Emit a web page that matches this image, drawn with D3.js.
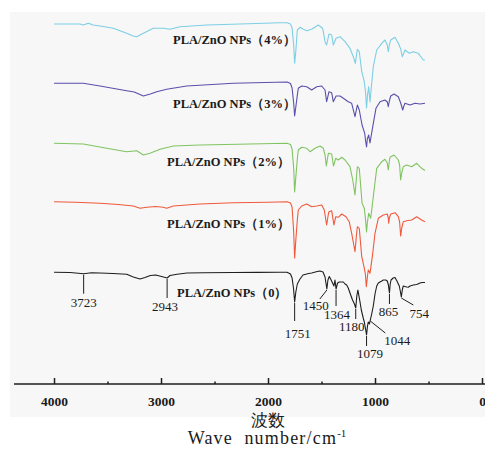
<!DOCTYPE html>
<html>
<head>
<meta charset="utf-8">
<script src="https://cdn.jsdelivr.net/npm/d3@7"></script>
<style>
  body { margin: 0; background: #ffffff; }
  text { font-family: "Liberation Serif", "Times New Roman", serif; fill: #1a1a1a; }
</style>
</head>
<body>
<svg id="chart" width="485" height="463"></svg>
<script>
// FTIR spectra of PLA/ZnO NPs films, [wavenumber cm^-1, relative transmittance]
const spectrum0 = [
  [4000, 99.7], [3850, 99.5], [3723, 98.3], [3650, 99.2], [3570, 99], [3450, 98.5], [3320, 97.8],
  [3259, 95], [3196, 93], [3150, 94.5], [3100, 96.5], [3050, 97], [2995, 95.5], [2943, 94],
  [2916, 96.5], [2850, 97.8], [2757, 99], [2600, 99.3], [2324, 99.5], [2100, 99.6], [1900, 99.7],
  [1822, 99.7], [1790, 98], [1775, 94], [1762, 84], [1751, 70], [1740, 80], [1726, 88], [1701, 93],
  [1673, 97], [1620, 98.5], [1592, 99], [1540, 100.5], [1514, 101], [1486, 100], [1467, 95],
  [1450, 83], [1440, 92], [1427, 95.5], [1410, 92], [1384, 86], [1374, 92], [1364, 83], [1350, 89],
  [1334, 90], [1311, 90], [1296, 90], [1280, 88], [1265, 87], [1250, 84], [1234, 79], [1210, 72],
  [1192, 68], [1180, 64], [1170, 76], [1160, 82], [1140, 70], [1128, 62], [1110, 54], [1100, 50],
  [1090, 44], [1079, 37], [1070, 46], [1063, 50], [1052, 48], [1044, 52], [1031, 58], [1016, 66],
  [1000, 78], [984, 86], [969, 89], [953, 90], [937, 91], [922, 92], [900, 92], [885, 91], [875, 87],
  [865, 79], [858, 88], [850, 92], [830, 94], [813, 94.5], [795, 91], [782, 88], [773, 86], [762, 80],
  [754, 75], [745, 82], [736, 86], [720, 85.5], [704, 85], [689, 84.7], [673, 86], [657, 86.5],
  [642, 87], [610, 87.5], [579, 89], [560, 89.5], [533, 89.5]
];
const spectrum1 = [
  [4000, 100.3], [3800, 99.8], [3570, 98.7], [3400, 97.5], [3259, 96], [3196, 93.7], [3134, 94.7],
  [3050, 95.5], [2979, 94.7], [2947, 93.7], [2885, 96], [2636, 98], [2324, 99.3], [2000, 99.8],
  [1822, 100.3], [1790, 99], [1775, 95], [1760, 70], [1751, 44], [1740, 62], [1726, 82], [1717, 92],
  [1685, 96], [1638, 98], [1592, 95.3], [1545, 96], [1498, 97], [1474, 92], [1452, 77], [1436, 88],
  [1430, 90.3], [1405, 91.3], [1384, 77], [1367, 85.3], [1343, 84.7], [1311, 88], [1271, 85.3],
  [1241, 80.3], [1218, 68.7], [1200, 58], [1187, 50.3], [1175, 65], [1165, 75.3], [1147, 73.7],
  [1124, 45.3], [1103, 35.3], [1090, 28], [1081, 15.3], [1070, 26], [1063, 32], [1047, 28.7],
  [1025, 45.3], [1000, 68.7], [969, 83.7], [922, 87], [885, 88], [876, 84], [872, 78.7], [866, 84],
  [853, 88], [813, 89.3], [782, 85.3], [770, 80], [760, 66], [750, 74], [736, 80.3], [704, 81.3],
  [657, 82], [610, 85.3], [564, 82], [533, 80.3]
];
const spectrum2 = [
  [4000, 99.7], [3726, 99], [3507, 94.7], [3321, 91.3], [3227, 92.3], [3165, 88], [3103, 89.7],
  [3009, 93.7], [2885, 97], [2636, 98], [2168, 99], [1822, 99.7], [1790, 98.5], [1775, 94],
  [1760, 75], [1751, 51], [1740, 66], [1726, 84], [1717, 93], [1685, 95.7], [1638, 94.7],
  [1607, 91.3], [1561, 94.7], [1514, 97], [1483, 94.7], [1467, 88], [1455, 77], [1436, 89.7],
  [1405, 89], [1388, 77], [1367, 84.7], [1343, 83], [1311, 85.7], [1280, 83], [1234, 76.3],
  [1208, 63], [1187, 48], [1165, 76.3], [1147, 74.7], [1121, 39.7], [1100, 34.7], [1090, 25],
  [1079, 11], [1072, 20], [1059, 29.7], [1040, 24.7], [1016, 46.3], [984, 74.7], [937, 81.3],
  [907, 83.7], [885, 80], [876, 73], [866, 82], [860, 85.7], [822, 88], [782, 83], [770, 78],
  [760, 63], [750, 70], [736, 76.3], [704, 78], [657, 76.3], [610, 79.7], [564, 74.7], [533, 72.5]
];
const spectrum3 = [
  [4000, 99.7], [3726, 99.7], [3570, 97], [3321, 92.3], [3250, 91], [3165, 87], [3100, 89],
  [3040, 91.3], [2947, 93.7], [2760, 97], [2324, 99.7], [1822, 101], [1790, 99.5], [1775, 95],
  [1760, 80], [1751, 67], [1740, 76], [1726, 88], [1717, 94.7], [1685, 97], [1638, 96.3],
  [1592, 93], [1545, 96.3], [1498, 97], [1467, 93], [1452, 81.3], [1430, 91.3], [1405, 90.3],
  [1390, 81.3], [1364, 87], [1327, 87], [1296, 84.7], [1250, 81.3], [1218, 79.7], [1187, 66.3],
  [1165, 78], [1147, 73], [1121, 58], [1096, 49.7], [1088, 42], [1079, 36], [1072, 44], [1059, 48],
  [1047, 40], [1021, 56.3], [991, 74.7], [953, 81.3], [907, 83], [885, 81], [876, 76.3], [866, 82],
  [853, 87], [822, 89], [782, 86.3], [760, 80], [741, 73], [730, 77], [720, 79.7], [673, 78],
  [626, 79.7], [579, 79], [533, 79.7]
];
const spectrum4 = [
  [4000, 99], [3757, 99], [3726, 98], [3679, 99.7], [3633, 98], [3570, 97], [3446, 94.7],
  [3321, 89.7], [3259, 87], [3227, 86.3], [3165, 89.7], [3072, 94.7], [2979, 94.7], [2916, 93.7],
  [2822, 96.3], [2573, 98], [2262, 99], [1888, 100.3], [1822, 100.3], [1790, 99], [1775, 95],
  [1760, 78], [1751, 59.7], [1740, 72], [1726, 93], [1701, 95.7], [1670, 93.7], [1638, 92.3],
  [1592, 93.7], [1530, 98], [1489, 94.7], [1467, 81.3], [1452, 78], [1430, 89], [1405, 88],
  [1390, 78], [1364, 84.7], [1327, 86.3], [1280, 81.3], [1234, 74.7], [1203, 66.3], [1184, 59.7],
  [1165, 73.7], [1147, 71.3], [1124, 51.3], [1100, 41.3], [1088, 30], [1079, 15], [1070, 28],
  [1059, 36.3], [1047, 21], [1035, 35], [1016, 56.3], [984, 73], [937, 79.7], [907, 83], [885, 78],
  [876, 71.3], [866, 78], [853, 83], [813, 85.7], [782, 79.7], [760, 74], [745, 66.3], [730, 70],
  [720, 73], [679, 69.7], [642, 71.3], [595, 69.7], [549, 63], [533, 63]
];

const seriesLabels = [
  "PLA/ZnO NPs（0）", "PLA/ZnO NPs（1%）", "PLA/ZnO NPs（2%）",
  "PLA/ZnO NPs（3%）", "PLA/ZnO NPs（4%）"
];
const majorTicks = [4000, 3000, 2000, 1000, 0];
const minorTicks = [3500, 2500, 1500, 500];
const peakLabels = [3723, 2943, 1751, 1450, 1364, 1180, 1079, 1044, 865, 754];
const axisTitleZh = "波数";
const axisTitleEn = "Wave  number/cm";

// ---- layout ----
const spectra = [spectrum0, spectrum1, spectrum2, spectrum3, spectrum4];
const colors = ["#1e1e1e", "#ef5a3c", "#80c462", "#5a50ab", "#7ccfe4"];
const stackShift = [0, 70, 129, 189, 249];   // vertical offset of each trace
const labelPos = [[177, 293], [167, 223.5], [167, 162], [173, 103.5], [173, 40]];
// annotation geometry: line end (lx, ly) and text centre (tx, ty), relative to the peak tip
const annot = {
  3723: { lx: 0, ly: 19, tx: 0, ty: 28 },
  2943: { lx: 0, ly: 19, tx: -2, ty: 27 },
  1751: { lx: 0, ly: 18, tx: 3, ty: 30 },
  1450: { lx: -7, ly: 9, tx: -11, ty: 15 },
  1364: { lx: 0, ly: 16, tx: 1, ty: 24 },
  1180: { lx: 0, ly: 10, tx: -4, ty: 17 },
  1079: { lx: 0, ly: 10, tx: 3.5, ty: 17 },
  1044: { lx: 15, ly: 12, tx: 27, ty: 19 },
  865:  { lx: 0, ly: 10, tx: -1, ty: 17 },
  754:  { lx: 12, ly: 7, tx: 18, ty: 15 }
};

const svg = d3.select("#chart");

// plot panel
svg.append("rect").attr("x", 10).attr("y", 12).attr("width", 475).attr("height", 405)
  .attr("fill", "#f7f7f7");

const x = d3.scaleLinear().domain([4374, 0]).range([14, 482]);
const y = d3.scaleLinear().domain([0, 360]).range([372, 12]);

const line = d3.line().x(d => x(d[0]));

spectra.forEach((s, i) => {
  svg.append("path")
    .datum(s)
    .attr("fill", "none")
    .attr("stroke", colors[i])
    .attr("stroke-width", 1.1)
    .attr("stroke-linejoin", "round")
    .attr("d", line.y(d => y(d[1] + stackShift[i])));
  svg.append("text")
    .attr("x", labelPos[i][0]).attr("y", labelPos[i][1])
    .attr("dominant-baseline", "central")
    .attr("font-size", 12.5)
    .attr("font-weight", "bold")
    .text(seriesLabels[i]);
});

// peak annotations on the neat PLA trace
const lookup = new Map(spectrum0.map(d => [d[0], d[1]]));
peakLabels.forEach(wn => {
  const a = annot[wn];
  const px = x(wn), py = y(lookup.get(wn) + stackShift[0]) + 1;
  svg.append("line")
    .attr("x1", px).attr("y1", py).attr("x2", px + a.lx).attr("y2", py + a.ly)
    .attr("stroke", "#1e1e1e").attr("stroke-width", 1);
  svg.append("text")
    .attr("x", px + a.tx).attr("y", py + a.ty)
    .attr("text-anchor", "middle").attr("dominant-baseline", "central")
    .attr("font-size", 13)
    .text(wn);
});

// x axis
const gAxis = svg.append("g").attr("transform", "translate(0,384)");
gAxis.call(d3.axisBottom(x).tickValues(majorTicks).tickSize(-6).tickPadding(12).tickFormat(d3.format("d")));
gAxis.append("g").call(d3.axisBottom(x).tickValues(minorTicks).tickSize(-2.5).tickFormat(""));
gAxis.selectAll(".domain").remove();
gAxis.selectAll(".tick line").attr("stroke", "#1e1e1e").attr("stroke-width", 1.5);
gAxis.selectAll(".tick text")
  .attr("font-family", "Liberation Serif, serif")
  .attr("font-size", 13.5).attr("font-weight", "bold").attr("fill", "#1a1a1a");
gAxis.append("line").attr("x1", 14).attr("x2", 485).attr("y1", 0).attr("y2", 0)
  .attr("stroke", "#1e1e1e").attr("stroke-width", 1.6);

// axis titles
svg.append("text")
  .attr("x", 268).attr("y", 420).attr("text-anchor", "middle").attr("dominant-baseline", "central")
  .attr("font-family", "Noto Sans CJK SC").attr("font-size", 17)
  .text(axisTitleZh);
const en = svg.append("text")
  .attr("x", 267).attr("y", 444).attr("text-anchor", "middle")
  .attr("font-size", 18).attr("letter-spacing", 1.2)
  .style("white-space", "pre");
en.append("tspan").text(axisTitleEn);
en.append("tspan").attr("dy", -7).attr("font-size", 11).attr("letter-spacing", 0).text("-1");
</script>
</body>
</html>
